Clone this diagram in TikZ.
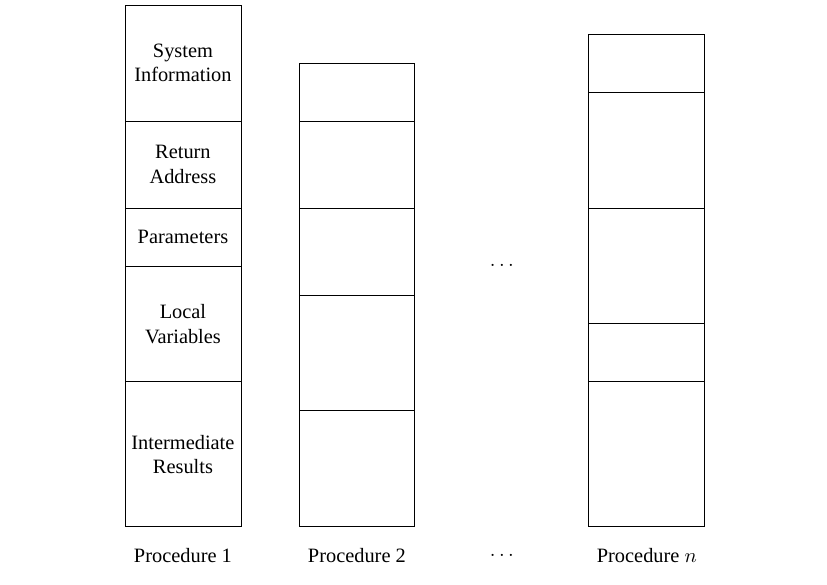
\documentclass[tikz,border=0pt]{standalone}
\usepackage{fontspec}
\setmainfont{Liberation Serif}
\usetikzlibrary{positioning}

\begin{document}
\begin{tikzpicture}[
    cell/.style={draw, minimum width=2cm, inner sep=0pt, outer sep=0pt, align=center}
  ]
  \useasboundingbox (-2.155,-1) rectangle (12.107,9.086);

  % procedure 1
  \node[cell, minimum height=2.5cm, anchor=south west] (p1e) at (0,0) {Intermediate\\Results};
  \node[cell, minimum height=2cm, above=0pt of p1e] (p1d) {Local\\Variables};
  \node[cell, minimum height=1cm, above=0pt of p1d] (p1c) {Parameters};
  \node[cell, minimum height=1.5cm, above=0pt of p1c] (p1b) {Return\\Address};
  \node[cell, minimum height=2cm, above=0pt of p1b] (p1a) {System\\Information};

  % procedure 2
  \node[cell, minimum height=2cm, anchor=south west] (p2e) at (3,0) {};
  \node[cell, minimum height=2cm, above=0pt of p2e] (p2d) {};
  \node[cell, minimum height=1.5cm, above=0pt of p2d] (p2c) {};
  \node[cell, minimum height=1.5cm, above=0pt of p2c] (p2b) {};
  \node[cell, minimum height=1cm, above=0pt of p2b] (p2a) {};

  % procedure n
  \node[cell, minimum height=2.5cm, anchor=south west] (pne) at (8,0) {};
  \node[cell, minimum height=1cm, above=0pt of pne] (pnd) {};
  \node[cell, minimum height=2cm, above=0pt of pnd] (pnc) {};
  \node[cell, minimum height=2cm, above=0pt of pnc] (pnb) {};
  \node[cell, minimum height=1cm, above=0pt of pnb] (pna) {};

  \node (dots) at (6.5,4.5) {$\cdots$};

  % labels
  \node (lab1) at ([yshift=-0.5cm]p1e.south) {Procedure 1};
  \node (lab2) at ([yshift=-0.5cm]p2e.south) {Procedure 2};
  \node (labn) at ([yshift=-0.5cm]pne.south) {Procedure $n$};
  \node (labdots) at (6.5,-0.5) {$\cdots$};
\end{tikzpicture}
\end{document}
